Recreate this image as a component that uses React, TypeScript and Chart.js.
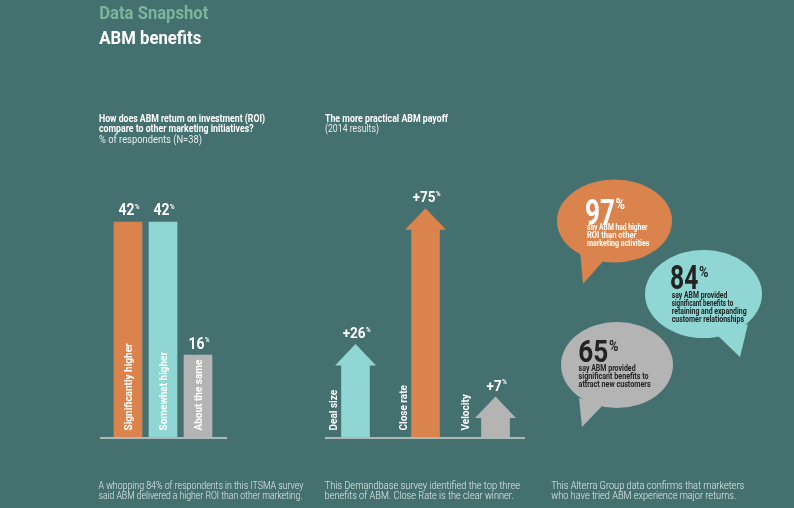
import React, { useEffect, useRef } from "react";
import { Chart, registerables } from "chart.js";
Chart.register(...registerables);

const BG = "#44716F";
const ORANGE = "#DA834C";
const TEAL = "#8FD6D5";
const GRAY = "#B4B4B4";
const FONT = "Roboto, 'Liberation Sans', sans-serif";
const KX = 0.87; // horizontal condensing factor for chart labels

const roiCategories = ["Significantly higher", "Somewhat higher", "About the same"];
const roiValues = [42, 42, 16];
const roiColors = [ORANGE, TEAL, GRAY];

const payoffCategories = ["Deal size", "Close rate", "Velocity"];
const payoffValues = [26, 75, 7];
const payoffColors = [TEAL, ORANGE, GRAY];

const bubbleValues = [97, 84, 65];
const bubbleTexts = [
  ["say ABM had higher", "ROI than other", "marketing activities"],
  ["say ABM provided", "significant benefits to", "retaining and expanding", "customer relationships"],
  ["say ABM provided", "significant benefits to", "attract new customers"],
];

function drawScaled(ctx: CanvasRenderingContext2D, text: string, x: number, y: number, font: string, k: number) {
  ctx.save();
  ctx.font = font;
  ctx.translate(x, y);
  ctx.scale(k, 1);
  ctx.fillText(text, 0, 0);
  ctx.restore();
}

function drawValue(ctx: CanvasRenderingContext2D, text: string, x: number, y: number, size: number) {
  ctx.save();
  ctx.fillStyle = "#FFFFFF";
  ctx.textBaseline = "alphabetic";
  ctx.textAlign = "left";
  const f1 = `bold ${size}px ${FONT}`;
  const f2 = `bold 7.5px ${FONT}`;
  ctx.font = f1;
  const w1 = ctx.measureText(text).width * KX;
  ctx.font = f2;
  const w2 = ctx.measureText("%").width * KX;
  const start = x - (w1 + w2) / 2 + 1;
  drawScaled(ctx, text, start, y, f1, KX);
  drawScaled(ctx, "%", start + w1 + 0.3, y - size * 0.72 + 5, f2, KX);
  ctx.restore();
}

function makeLabelPlugin(kind: "bar" | "arrow", labels: string[], lineFrom: number, lineTo: number) {
  return {
    id: "custom-" + kind,
    afterDatasetsDraw(chart: any) {
      const ctx: CanvasRenderingContext2D = chart.ctx;
      const meta = chart.getDatasetMeta(0);
      const colors = chart.data.datasets[0].backgroundColor;
      const vals = chart.data.datasets[0].data;
      let baseY = 0;
      const labelFont = `bold 11.5px ${FONT}`;
      meta.data.forEach((el: any, i: number) => {
        const { x, y, base } = el.getProps(["x", "y", "base"], true);
        baseY = base;
        let bx = x + 3.5;
        if (kind === "arrow") {
          ctx.save();
          ctx.fillStyle = colors[i];
          ctx.beginPath();
          ctx.moveTo(x - 20.5, y + 0.5);
          ctx.lineTo(x + 20.5, y + 0.5);
          ctx.lineTo(x, y - 21);
          ctx.closePath();
          ctx.fill();
          ctx.restore();
          drawValue(ctx, "+" + vals[i], x, y - 21 - 6, 15.5);
          ctx.font = labelFont;
          const len = ctx.measureText(labels[i]).width * KX;
          const labelTop = base - 7 - len;
          bx = labelTop < y + 2 ? x - 20.5 - 6 : x - 18.5;
        } else {
          drawValue(ctx, String(vals[i]), x, y - 6.5, 16);
        }
        ctx.save();
        ctx.fillStyle = "#FFFFFF";
        ctx.textAlign = "left";
        ctx.textBaseline = "alphabetic";
        ctx.font = labelFont;
        ctx.translate(bx, base - 6.5);
        ctx.rotate(-Math.PI / 2);
        ctx.scale(KX, 1);
        ctx.fillText(labels[i], 0, 0);
        ctx.restore();
      });
      ctx.save();
      ctx.strokeStyle = "#A9BAB8";
      ctx.lineWidth = 2;
      ctx.beginPath();
      ctx.moveTo(lineFrom, baseY + 1);
      ctx.lineTo(lineTo, baseY + 1);
      ctx.stroke();
      ctx.restore();
    },
  };
}

function BarChart(props: {
  labels: string[];
  values: number[];
  colors: string[];
  kind: "bar" | "arrow";
  width: number;
  height: number;
  max: number;
  padding: any;
  lineFrom: number;
  lineTo: number;
  style: any;
}) {
  const ref = useRef<HTMLCanvasElement>(null);
  useEffect(() => {
    if (!ref.current) return;
    const chart = new Chart(ref.current, {
      type: "bar",
      data: {
        labels: props.labels,
        datasets: [
          {
            data: props.values,
            backgroundColor: props.colors,
            borderWidth: 0,
            barThickness: 28,
          },
        ],
      },
      options: {
        animation: false,
        responsive: false,
        devicePixelRatio: 1,
        layout: { padding: props.padding },
        plugins: { legend: { display: false }, tooltip: { enabled: false } },
        scales: {
          x: { display: false },
          y: { display: false, min: 0, max: props.max },
        },
      },
      plugins: [makeLabelPlugin(props.kind, props.labels, props.lineFrom, props.lineTo)],
    } as any);
    return () => chart.destroy();
  }, []);
  return <canvas ref={ref} width={props.width} height={props.height} style={props.style} />;
}

// Text element fitted to width w
function T(p: { x: number; y: number; w: number; size: number; weight?: number; fill: string; children: any }) {
  return (
    <text x={p.x} y={p.y} textLength={p.w} lengthAdjust="spacingAndGlyphs" fontFamily={FONT} fontSize={p.size} fontWeight={p.weight || 400} fill={p.fill}>
      {p.children}
    </text>
  );
}

const bubbleLayout = [
  { cx: 614.5, cy: 221, rx: 57.5, ry: 41.5, color: ORANGE, text: "#FFFFFF", tail: "580,250 605,259 583,284",
    nx: 585, ny: 225, nw: 30, ns: 36, px: 615.5, py: 209, tx: 587, ty: 230.3, lh: 7.7, lw: [60.6, 49.3, 62.3] },
  { cx: 703.5, cy: 294, rx: 58.5, ry: 44, color: TEAL, text: "#232323", tail: "716,334 748,324 740,357",
    nx: 670, ny: 289.3, nw: 28.3, ns: 33, px: 699, py: 276.5, tx: 671.7, ty: 297.7, lh: 8.2, lw: [55.7, 61.5, 75, 72.3] },
  { cx: 617, cy: 365, rx: 56, ry: 43, color: GRAY, text: "#232323", tail: "579,398 603,405 582,427",
    nx: 578.3, ny: 361.7, nw: 30, ns: 31, px: 609, py: 351.3, tx: 578.6, ty: 371, lh: 7.9, lw: [57, 70, 72] },
];

const SUB = "#E3ECEB";

export default function App() {
  return (
    <div style={{ position: "fixed", left: 0, top: 0, width: 794, height: 508, background: BG, overflow: "hidden" }}>
      <BarChart
        labels={roiCategories}
        values={roiValues}
        colors={roiColors}
        kind="bar"
        width={127}
        height={270}
        max={50}
        padding={{ left: 10.5, right: 11.5, top: 11, bottom: 3 }}
        lineFrom={0}
        lineTo={127}
        style={{ position: "absolute", left: 100, top: 170 }}
      />
      <BarChart
        labels={payoffCategories}
        values={payoffValues}
        colors={payoffColors}
        kind="arrow"
        width={211}
        height={292}
        max={100}
        padding={{ left: 0.5, right: 0.5, top: 10, bottom: 5 }}
        lineFrom={5}
        lineTo={205}
        style={{ position: "absolute", left: 320, top: 150 }}
      />

      <svg width={794} height={508} style={{ position: "absolute", left: 0, top: 0 }}>
        <T x={99.3} y={18.5} w={109} size={18.5} weight={700} fill="#7DB59C">Data Snapshot</T>
        <T x={99.3} y={43.5} w={102} size={18.5} weight={700} fill="#FFFFFF">ABM benefits</T>

        <T x={99} y={122} w={166} size={10} weight={700} fill="#FFFFFF">How does ABM return on investment (ROI)</T>
        <T x={99} y={132.3} w={154.5} size={10} weight={700} fill="#FFFFFF">compare to other marketing initiatives?</T>
        <T x={99} y={142.6} w={103} size={10} fill={SUB}>% of respondents (N=38)</T>

        <T x={325} y={122} w={123} size={10} weight={700} fill="#FFFFFF">The more practical ABM payoff</T>
        <T x={325} y={132.3} w={54} size={10} fill={SUB}>(2014 results)</T>

        {bubbleLayout.map((b, i) => (
          <g key={i}>
            <ellipse cx={b.cx} cy={b.cy} rx={b.rx} ry={b.ry} fill={b.color} />
            <polygon points={b.tail} fill={b.color} />
            <T x={b.nx} y={b.ny} w={b.nw} size={b.ns} weight={700} fill={b.text}>{String(bubbleValues[i])}</T>
            <T x={b.px} y={b.py} w={9.5} size={14} weight={700} fill={b.text}>%</T>
            {bubbleTexts[i].map((line, j) => (
              <T key={j} x={b.tx} y={b.ty + j * b.lh} w={b.lw[j]} size={8.6} weight={700} fill={b.text}>{line}</T>
            ))}
          </g>
        ))}

        <T x={98.5} y={488.7} w={205} size={10} weight={300} fill={SUB}>A whopping 84% of respondents in this ITSMA survey</T>
        <T x={98.5} y={498.8} w={204} size={10} weight={300} fill={SUB}>said ABM delivered a higher ROI than other marketing.</T>
        <T x={324.6} y={488.7} w={195.5} size={10} weight={300} fill={SUB}>This Demandbase survey identified the top three</T>
        <T x={324.6} y={498.8} w={189} size={10} weight={300} fill={SUB}>benefits of ABM. Close Rate is the clear winner.</T>
        <T x={551.2} y={488.7} w={193} size={10} weight={300} fill={SUB}>This Alterra Group data confirms that marketers</T>
        <T x={551.2} y={498.8} w={185} size={10} weight={300} fill={SUB}>who have tried ABM experience major returns.</T>
      </svg>
    </div>
  );
}
